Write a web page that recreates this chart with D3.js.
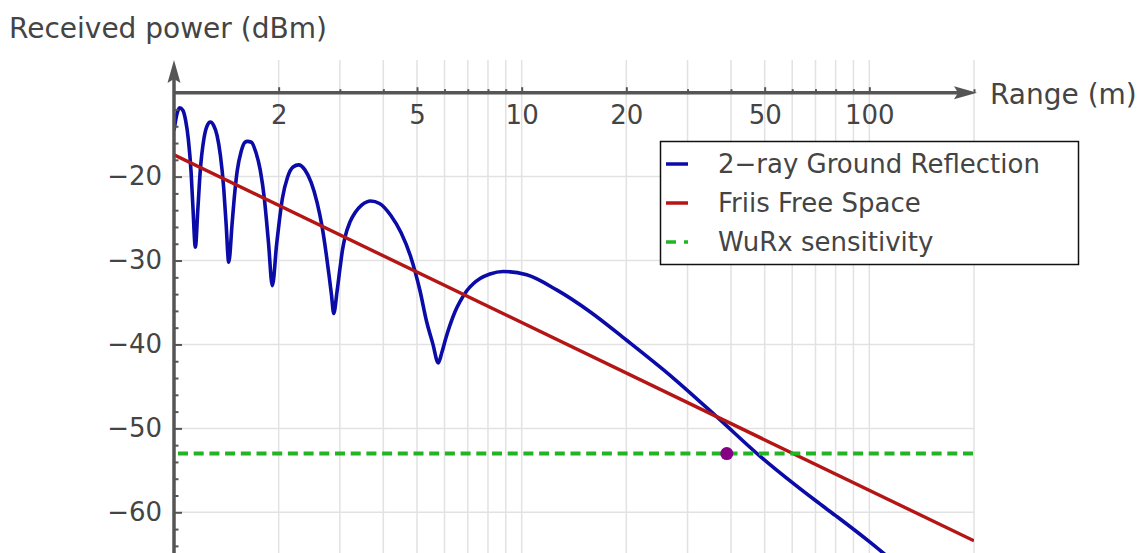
<!DOCTYPE html>
<html><head><meta charset="utf-8">
<script src="https://cdn.jsdelivr.net/npm/d3@7"></script>
<style>
body{margin:0;background:#fff;}
svg{display:block;font-family:"DejaVu Sans",sans-serif;}
</style></head><body>
<svg id="chart" width="1143" height="553"></svg>
<script>
// ---- data ----
const twoRayRange = [1.000,1.020,1.038,1.060,1.080,1.100,1.120,1.134,1.152,
  1.171,1.190,1.220,1.250,1.272,1.300,1.330,1.360,1.390,1.400,1.412,1.437,
  1.470,1.490,1.520,1.560,1.600,1.625,1.670,1.720,1.770,1.820,1.845,1.870,1.918,
  1.974,2.010,2.050,2.120,2.200,2.284,2.380,2.480,2.580,2.665,2.736,2.791,2.838,2.880,
  2.944,3.003,3.053,3.104,3.208,3.316,3.465,3.680,3.900,4.200,4.500,4.800,5.100,5.330,5.550,5.756,
  5.899,6.057,6.220,6.430,6.646,6.952,7.244,7.592,8.106,8.850,10.34,12.61,15.72,20.04,27.29,36.37,48.45,70.0,80.0,100.0,110.0,120.0];
const twoRayPower = [-14.5,-12.5,-11.8,-12.1,-13.3,-15.6,-19.5,-23.8,-28.4,
  -23.9,-19.3,-15.4,-13.8,-13.5,-13.9,-15.1,-17.5,-21.4,-23.3,-25.6,-30.2,
  -25.5,-22.6,-19.3,-17.0,-15.9,-15.8,-15.9,-17.1,-19.2,-22.7,-25.2,-27.9,-33.0,
  -28.0,-25.2,-22.6,-20.1,-18.85,-18.6,-19.2,-20.7,-23.1,-25.9,-29.0,-31.7,-34.1,-36.3,
  -33.7,-30.9,-28.7,-27.2,-25.4,-24.3,-23.4,-22.9,-23.2,-24.6,-26.7,-29.6,-33.6,-37.3,-39.9,-42.2,
  -40.9,-39.2,-37.7,-36.1,-34.9,-33.6,-32.8,-32.15,-31.6,-31.3,-31.7,-33.5,-36.1,-39.5,-44.0,-48.6,-53.3,-58.6,-60.4,-63.5,-64.9,-66.2];
const friisRange = [1, 200];
const friisPower = [-17.4, -63.4];
const sensitivityRange = [1, 200];
const sensitivityPower = [-53, -53];
const markerRange = [38.9];
const markerPower = [-53];
const xMajorTicks = [2, 5, 10, 20, 50, 100];
const xMinorTicks = [3, 4, 6, 7, 8, 9, 30, 40, 60, 70, 80, 90, 200];
const xGridValues = [2,3,4,5,6,7,8,9,10,20,30,40,50,60,70,80,90,100,200];
const yMajorTicks = [-20, -30, -40, -50, -60];
const yMinorTicks = [-12,-14,-16,-18,-22,-24,-26,-28,-32,-34,-36,-38,-42,-44,-46,-48,-52,-54,-56,-58,-62,-64];
const legendLabels = ["2\u2212ray Ground Reflection", "Friis Free Space", "WuRx sensitivity"];
const seriesColors = ["#0b0ba8", "#b41616", "#22b422"];

// ---- drawing ----
const svg = d3.select("#chart");
const x = d3.scaleLog().domain([1, 200]).range([174, 974]);
const y = d3.scaleLinear().domain([-10, -60]).range([92.7, 512.3]);
const axisColor = "#555";
const textColor = "#444";

// grid
const grid = svg.append("g");
grid.selectAll("line.v").data(xGridValues).join("line").attr("class","v")
  .attr("x1", d => x(d)).attr("x2", d => x(d)).attr("y1", 60).attr("y2", 553)
  .attr("stroke", "#e2e2e2").attr("stroke-width", 1.5);
grid.selectAll("line.h").data(yMajorTicks).join("line").attr("class","h")
  .attr("x1", x(1)).attr("x2", x(200)).attr("y1", d => y(d)).attr("y2", d => y(d))
  .attr("stroke", "#e2e2e2").attr("stroke-width", 1.5);

// clip
svg.append("clipPath").attr("id", "plotclip").append("rect")
  .attr("x", x(1)).attr("y", 55).attr("width", x(200) - x(1)).attr("height", 553 - 55);
const plot = svg.append("g").attr("clip-path", "url(#plotclip)");

const twoRay = twoRayRange.map((r, i) => [r, twoRayPower[i]]);
const friis = friisRange.map((r, i) => [r, friisPower[i]]);
const sens = sensitivityRange.map((r, i) => [r, sensitivityPower[i]]);
const straight = d3.line().x(d => x(d[0])).y(d => y(d[1]));

plot.append("path").datum(twoRay)
  .attr("d", d3.line().x(d => x(d[0])).y(d => y(d[1])).curve(d3.curveMonotoneX))
  .attr("fill", "none").attr("stroke", seriesColors[0]).attr("stroke-width", 3.6)
  .attr("stroke-linejoin", "round");
plot.append("path").datum(friis)
  .attr("d", straight)
  .attr("fill", "none").attr("stroke", seriesColors[1]).attr("stroke-width", 3.4);
plot.append("path").datum(sens)
  .attr("d", straight)
  .attr("fill", "none").attr("stroke", seriesColors[2]).attr("stroke-width", 4)
  .attr("stroke-dasharray", "10,5.7").attr("stroke-dashoffset", -4);
plot.selectAll("circle").data(markerRange).join("circle")
  .attr("cx", d => x(d)).attr("cy", (d, i) => y(markerPower[i])).attr("r", 6.5)
  .attr("fill", "#850085");

// axes
function styleAxis(g) {
  g.select(".domain").remove();
  g.selectAll(".tick line").attr("stroke", axisColor).attr("stroke-width", 2);
  g.selectAll(".tick text").attr("fill", textColor).attr("font-size", 26)
    .attr("font-family", "DejaVu Sans, sans-serif");
  g.attr("font-family", null).attr("font-size", null);
}
const y0 = y(-10);
svg.append("g").attr("transform", `translate(0,${y0})`)
  .call(d3.axisBottom(x).tickValues(xMajorTicks).tickFormat(d3.format("d"))
    .tickSizeInner(-5.5).tickSizeOuter(0).tickPadding(13))
  .call(styleAxis);
svg.append("g").attr("transform", `translate(0,${y0})`)
  .call(d3.axisBottom(x).tickValues(xMinorTicks).tickFormat("")
    .tickSizeInner(-3.5).tickSizeOuter(0))
  .call(styleAxis);
svg.append("g").attr("transform", `translate(${x(1)},0)`)
  .call(d3.axisLeft(y).tickValues(yMajorTicks).tickFormat(d3.format("d"))
    .tickSizeInner(-8).tickSizeOuter(0).tickPadding(12))
  .call(styleAxis);
svg.append("g").attr("transform", `translate(${x(1)},0)`)
  .call(d3.axisLeft(y).tickValues(yMinorTicks).tickFormat("")
    .tickSizeInner(-4.5).tickSizeOuter(0))
  .call(styleAxis);

// axis lines with arrowheads
const ax = x(1);
svg.append("line").attr("x1", ax).attr("x2", 962).attr("y1", y0).attr("y2", y0)
  .attr("stroke", axisColor).attr("stroke-width", 3.5);
svg.append("path")
  .attr("d", `M977,${y0} L954,${y0 - 6.5} L958,${y0} L954,${y0 + 6.5} Z`)
  .attr("fill", axisColor);
svg.append("line").attr("x1", ax).attr("x2", ax).attr("y1", 553).attr("y2", 76)
  .attr("stroke", axisColor).attr("stroke-width", 3.5);
svg.append("path")
  .attr("d", `M${ax},60 L${ax - 6.5},83 L${ax},79 L${ax + 6.5},83 Z`)
  .attr("fill", axisColor);

// axis titles
svg.append("text").attr("x", 990).attr("y", 103.5).attr("font-size", 28)
  .attr("fill", textColor).text("Range (m)");
svg.append("text").attr("x", 9).attr("y", 37.5).attr("font-size", 28)
  .attr("fill", textColor).text("Received power (dBm)");

// legend
const lg = svg.append("g");
lg.append("rect").attr("x", 660.5).attr("y", 141.5).attr("width", 418).attr("height", 123)
  .attr("fill", "#fff").attr("stroke", "#111").attr("stroke-width", 1.5);
const rowsY = [164, 203, 242];
legendLabels.forEach((lab, i) => {
  const sw = lg.append("line").attr("x1", 666).attr("x2", 688)
    .attr("y1", rowsY[i]).attr("y2", rowsY[i])
    .attr("stroke", seriesColors[i]).attr("stroke-width", 3.5);
  if (i === 2) sw.attr("stroke-dasharray", "10,8");
  lg.append("text").attr("x", 718).attr("y", rowsY[i]).attr("dy", "0.36em")
    .attr("font-size", 26).attr("fill", textColor).text(lab);
});
</script>
</body></html>
